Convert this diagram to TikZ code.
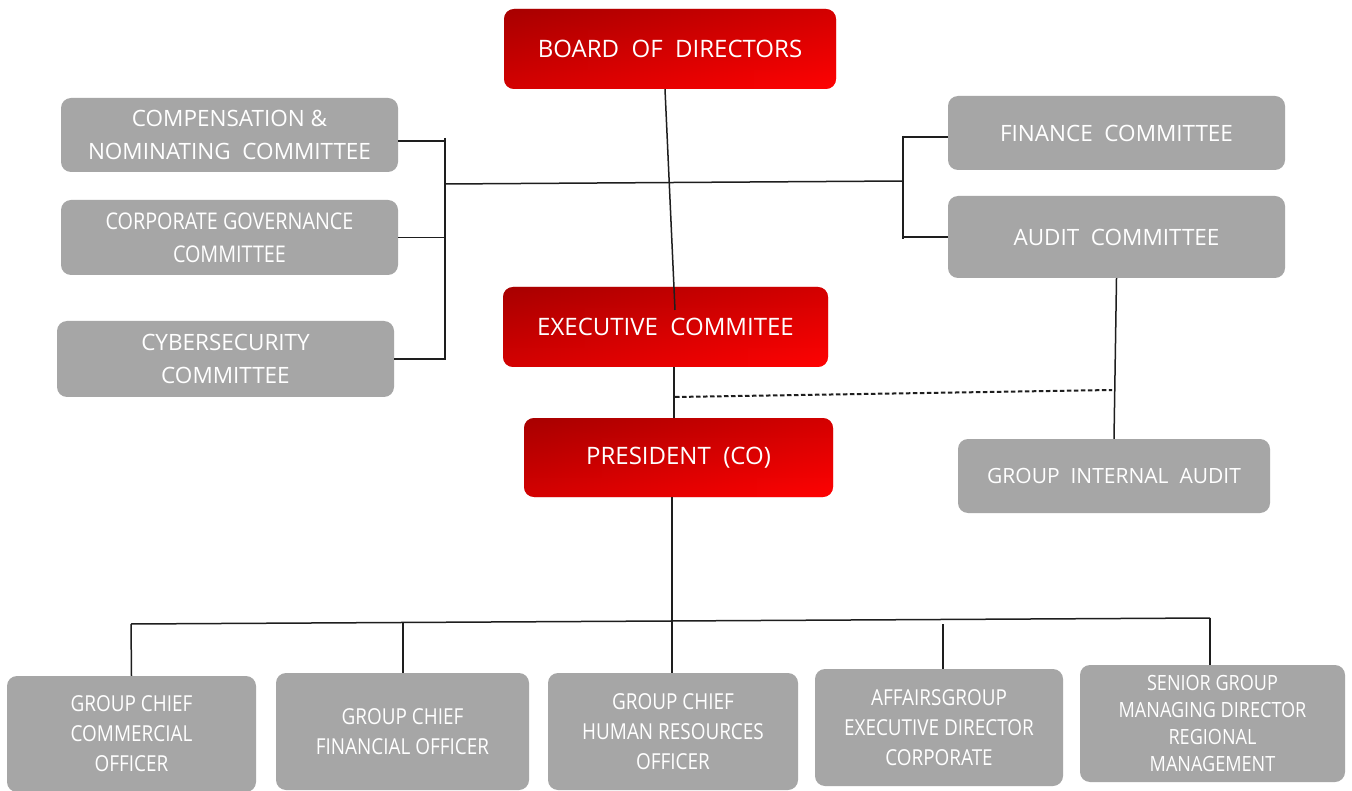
\documentclass[tikz,border=0pt]{standalone}
\usepackage{fontspec}
\setmainfont{Open Sans}
\newfontfamily\cond[FakeStretch=0.86]{Open Sans}
\usetikzlibrary{calc}
\definecolor{rdark}{HTML}{A80000}
\definecolor{rmid}{HTML}{EA0000}
\definecolor{rbright}{HTML}{FF0202}
\definecolor{boxgray}{HTML}{A6A6A6}
\definecolor{linec}{HTML}{1E1E1E}
\tikzset{
  redbox/.style={rounded corners=10pt, left color=rdark, middle color=rmid, right color=rbright,
    path picture={\shade[top color=rdark, middle color=rmid, bottom color=rbright, opacity=0.5]
      (path picture bounding box.south west) rectangle (path picture bounding box.north east);},
    text=white, align=center, inner sep=0pt, font=\fontsize{24}{30}\selectfont},
  graybox/.style={rounded corners=10pt, fill=boxgray, text=white, align=center, inner sep=0pt,
    font=\fontsize{22.5}{33}\selectfont},
  condbox/.style={graybox, font=\cond\fontsize{22}{30}\selectfont},
  conn/.style={draw=linec, line width=1.5pt},
  dashconn/.style={conn, line width=2pt, dash pattern=on 4.5pt off 2.5pt},
}
\begin{document}
\begin{tikzpicture}[x=1pt,y=-1pt]
\clip (0,0) rectangle (1352,791);
\fill[white] (0,0) rectangle (1352,791);
% red boxes
\node[redbox, minimum width=332pt, minimum height=80pt] (board) at (670,49) {BOARD\ \ OF\ \ DIRECTORS};
\node[redbox, minimum width=325pt, minimum height=80pt] (exec) at (665.5,327) {EXECUTIVE\ \ COMMITEE};
\node[redbox, minimum width=309pt, minimum height=79pt] (pres) at (678.5,457.5) {PRESIDENT\ \ (CO)};
% committees left
\node[graybox, minimum width=337pt, minimum height=74pt] (comp) at (229.5,135) {COMPENSATION \&\\NOMINATING\ \ COMMITTEE};
\node[condbox, minimum width=337pt, minimum height=75pt, font=\cond\fontsize{23}{33}\selectfont] (corp) at (229.5,237.5) {CORPORATE GOVERNANCE\\COMMITTEE};
\node[graybox, minimum width=337pt, minimum height=76pt] (cyber) at (225.5,359) {CYBERSECURITY\\COMMITTEE};
% committees right
\node[graybox, minimum width=337pt, minimum height=74pt] (fin) at (1116.5,133) {FINANCE\ \ COMMITTEE};
\node[graybox, minimum width=337pt, minimum height=82pt] (audit) at (1116.5,237) {AUDIT\ \ COMMITTEE};
\node[graybox, minimum width=312pt, minimum height=74pt, font=\fontsize{21}{30}\selectfont] (gia) at (1114,476) {GROUP\ \ INTERNAL\ \ AUDIT};
% bottom
\node[condbox, minimum width=249pt, minimum height=116pt] (b1) at (131.5,734) {GROUP CHIEF\\COMMERCIAL\\OFFICER};
\node[condbox, minimum width=253pt, minimum height=117pt] (b2) at (402.5,731.5) {GROUP CHIEF\\FINANCIAL OFFICER};
\node[condbox, minimum width=250pt, minimum height=117pt] (b3) at (673,731.5) {GROUP CHIEF\\HUMAN RESOURCES\\OFFICER};
\node[condbox, minimum width=248pt, minimum height=117pt] (b4) at (939,727.5) {AFFAIRSGROUP\\EXECUTIVE DIRECTOR\\CORPORATE};
\node[condbox, minimum width=265pt, minimum height=117pt, font=\cond\fontsize{21}{27}\selectfont] (b5) at (1212.5,723.5) {SENIOR GROUP\\MANAGING DIRECTOR\\REGIONAL\\MANAGEMENT};
% junction coordinates
\coordinate (lvtop) at (445,138);
\coordinate (lvbot) at (445,360);
\coordinate (lmid) at (445,184);
\coordinate (rmid) at (903,181);
\coordinate (rvtop) at (903,136);
\coordinate (rvbot) at (903,239);
\coordinate (bexec) at (675,310);
\coordinate (dashL) at (675,397);
\coordinate (dashR) at (1112,390);
\coordinate (busL) at (131,624);
\coordinate (busR) at (1210,618);
\coordinate (bus2) at (403,623);
\coordinate (bus4) at (943,624);
% connectors
\draw[conn] ([xshift=-5pt]board.south) -- (bexec);
\draw[conn] (lvtop) -- (lvbot);
\draw[conn] ([yshift=-6pt]comp.east) -- (lvtop |- 0,141);
\draw[conn] (corp.east) -- (lvtop |- corp.east);
\draw[conn] (cyber.east) -- (lvbot |- cyber.east);
\draw[conn] (lmid) -- (rmid);
\draw[conn] (rvtop) -- (rvbot);
\draw[conn] (rvtop |- 0,137) -- ([yshift=-4pt]fin.west);
\draw[conn] (rvbot |- audit.west) -- (audit.west);
\draw[conn] (audit.south) -- (gia.north);
\draw[conn] ([xshift=8.5pt]exec.south) -- ([xshift=-4.5pt]pres.north);
\draw[dashconn] (dashL) -- (dashR);
\draw[conn] ([xshift=-6.5pt]pres.south) -- ([xshift=-1pt]b3.north);
\draw[conn] (busL) -- (busR);
\draw[conn] (busL) -- (b1.north);
\draw[conn] (bus2) -- ([xshift=0.5pt]b2.north);
\draw[conn] (bus4) -- ([xshift=4pt]b4.north);
\draw[conn] (busR) -- ([xshift=-2.5pt]b5.north);
\end{tikzpicture}
\end{document}
